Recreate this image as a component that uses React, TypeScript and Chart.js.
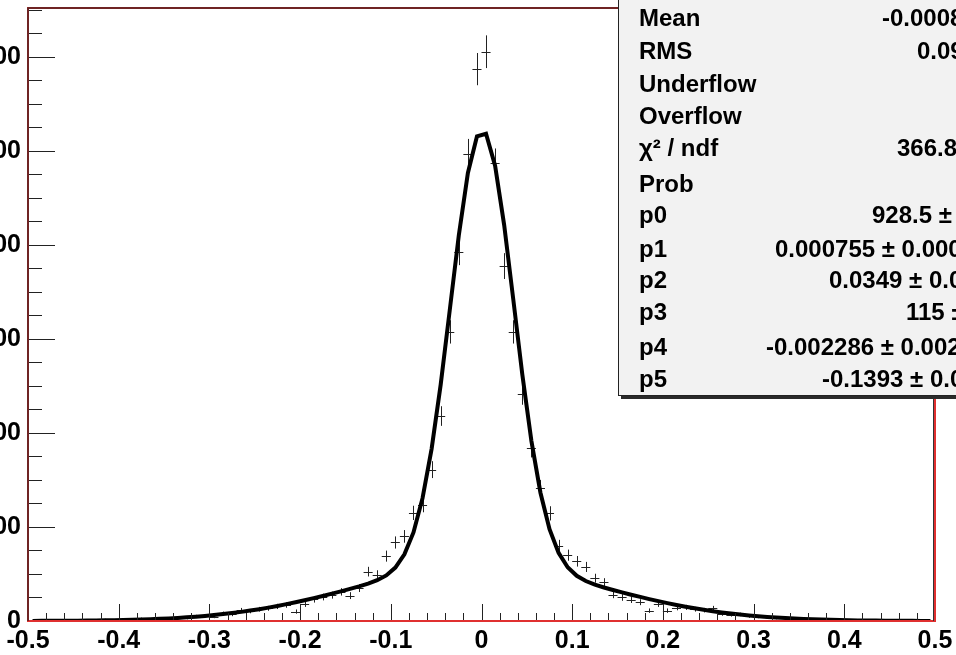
import { useEffect, useRef } from "react";
import { Chart, registerables } from "chart.js";

Chart.register(...registerables);

// ---- data ----
const binCenters = [
  -0.495, -0.485, -0.475, -0.465, -0.455, -0.445, -0.435, -0.425, -0.415, -0.405,
  -0.395, -0.385, -0.375, -0.365, -0.355, -0.345, -0.335, -0.325, -0.315, -0.305,
  -0.295, -0.285, -0.275, -0.265, -0.255, -0.245, -0.235, -0.225, -0.215, -0.205,
  -0.195, -0.185, -0.175, -0.165, -0.155, -0.145, -0.135, -0.125, -0.115, -0.105,
  -0.095, -0.085, -0.075, -0.065, -0.055, -0.045, -0.035, -0.025, -0.015, -0.005,
  0.005, 0.015, 0.025, 0.035, 0.045, 0.055, 0.065, 0.075, 0.085, 0.095,
  0.105, 0.115, 0.125, 0.135, 0.145, 0.155, 0.165, 0.175, 0.185, 0.195,
  0.205, 0.215, 0.225, 0.235, 0.245, 0.255, 0.265, 0.275, 0.285, 0.295,
  0.305, 0.315, 0.325, 0.335, 0.345, 0.355, 0.365, 0.375, 0.385, 0.395,
  0.405, 0.415, 0.425, 0.435, 0.445, 0.455, 0.465, 0.475, 0.485, 0.495,
];

const counts = [
  0, 1, 0, 1, 2, 0, 2, 1, 3, 2,
  4, 2, 5, 3, 6, 5, 7, 6, 10, 11,
  9, 16, 14, 23, 21, 25, 27, 31, 34, 20,
  36, 46, 51, 55, 62, 54, 70, 105, 98, 138,
  167, 180, 230, 247, 322, 436, 615, 785, 994, 1174,
  1211, 974, 755, 615, 482, 367, 283, 229, 160, 140,
  127, 115, 91, 82, 56, 50, 45, 40, 22, 36,
  22, 28, 29, 25, 23, 27, 15, 13, 14, 10,
  9, 8, 6, 7, 4, 5, 3, 4, 2, 3,
  1, 2, 1, 0, 1, 2, 0, 1, 0, 1,
];

const fitValues = [
  0.22, 0.28, 0.36, 0.46, 0.59, 0.74, 0.92, 1.15, 1.43, 1.76,
  2.16, 2.64, 3.21, 3.88, 4.66, 5.58, 6.64, 7.86, 9.25, 10.85,
  12.65, 14.67, 16.92, 19.42, 22.19, 25.2, 28.49, 32.04, 35.84, 39.89,
  44.17, 48.66, 53.32, 58.13, 63.1, 68.2, 73.5, 79.4, 86.7, 97.0,
  113.7, 141.8, 188.4, 261.3, 366.2, 502.8, 661.3, 820.6, 953.0, 1030.9,
  1036.4, 968.4, 842.2, 684.7, 524.3, 383.2, 272.9, 195.2, 144.9, 114.3,
  96.2, 85.1, 77.4, 71.3, 65.9, 60.85, 55.9, 51.2, 46.6, 42.2,
  38.0, 34.1, 30.4, 26.95, 23.8, 20.9, 18.25, 15.86, 13.71, 11.8,
  10.09, 8.59, 7.28, 6.13, 5.14, 4.29, 3.56, 2.94, 2.41, 1.97,
  1.6, 1.29, 1.04, 0.83, 0.66, 0.53, 0.41, 0.32, 0.25, 0.2,
];

const statLabels = ["Mean", "RMS", "Underflow", "Overflow", "χ² / ndf", "Prob", "p0", "p1", "p2", "p3", "p4", "p5"];
const statValues = [
  "-0.0008344", "0.09528", "0", "0", "366.8 / 94", "1.2e-33",
  "928.5 ± 11.6", "0.000755 ± 0.000326", "0.0349 ± 0.0004", "115 ± 2.1",
  "-0.002286 ± 0.002571", "-0.1393 ± 0.0021",
];

// ---- layout / style ----
const X_MIN = -0.5, X_MAX = 0.5, Y_MIN = 0, Y_MAX = 1304;
const BIN_HALF = 0.005;
const FONT = '"Liberation Sans", Arial, Helvetica, sans-serif';
const statRowBaselines = [26, 59, 92, 124, 156, 192, 223, 257, 288, 320, 355, 387];
const statValueStarts = [882, 917, 1000, 1000, 897, 1000, 872, 775, 829, 906, 766, 822];

function fmtX(v: number) {
  if (Math.abs(v) < 1e-9) return "0";
  return Number(v).toFixed(1);
}

const rootPlugin = {
  id: "rootStyle",
  beforeDatasetsDraw(chart: any) {
    const ctx = chart.ctx;
    const xs = chart.scales.x;
    const ys = chart.scales.y;
    const a = chart.chartArea;
    ctx.save();
    ctx.beginPath();
    ctx.rect(a.left, a.top, a.right - a.left, a.bottom - a.top);
    ctx.clip();
    ctx.strokeStyle = "#222";
    ctx.lineWidth = 1;
    ctx.beginPath();
    const pts = chart.data.datasets[0].data;
    for (let i = 0; i < pts.length; i++) {
      const c = pts[i].y;
      if (c <= 0) continue;
      const e = Math.sqrt(c);
      const px = Math.round(xs.getPixelForValue(pts[i].x)) + 0.5;
      const py = Math.round(ys.getPixelForValue(c)) + 0.5;
      const t = ys.getPixelForValue(c + e);
      const b = ys.getPixelForValue(Math.max(c - e, 0));
      const l = xs.getPixelForValue(pts[i].x - BIN_HALF);
      const r = xs.getPixelForValue(pts[i].x + BIN_HALF);
      ctx.moveTo(px, t);
      ctx.lineTo(px, b);
      ctx.moveTo(l, py);
      ctx.lineTo(r, py);
    }
    ctx.stroke();
    ctx.restore();
  },
  afterDraw(chart: any) {
    const ctx = chart.ctx;
    const xs = chart.scales.x;
    const ys = chart.scales.y;
    const a = chart.chartArea;
    ctx.save();
    // ticks
    ctx.strokeStyle = "#222";
    ctx.lineWidth = 1;
    ctx.beginPath();
    for (let k = 0; k <= 50; k++) {
      const v = X_MIN + k * 0.02;
      const major = k % 5 === 0;
      const px = Math.round(xs.getPixelForValue(v)) + 0.5;
      ctx.moveTo(px, a.bottom);
      ctx.lineTo(px, a.bottom - (major ? 17 : 8));
    }
    for (let k = 0; k <= 26; k++) {
      const v = k * 50;
      const major = k % 4 === 0;
      const py = Math.round(ys.getPixelForValue(v)) + 0.5;
      ctx.moveTo(a.left, py);
      ctx.lineTo(a.left + (major ? 27 : 14), py);
    }
    ctx.stroke();
    // frame
    ctx.strokeStyle = "#e03030";
    ctx.lineWidth = 2;
    ctx.strokeRect(a.left, a.top, a.right - a.left, a.bottom - a.top);
    ctx.strokeStyle = "#4a2020";
    ctx.lineWidth = 1.5;
    ctx.beginPath();
    ctx.moveTo(a.left, a.bottom);
    ctx.lineTo(a.left, a.top);
    ctx.lineTo(a.right, a.top);
    ctx.stroke();
    ctx.strokeStyle = "#333";
    ctx.lineWidth = 1;
    ctx.beginPath();
    ctx.moveTo(a.right - 1.5, a.top);
    ctx.lineTo(a.right - 1.5, a.bottom);
    ctx.stroke();

    // stats box
    const bx = 618, by = -5, bw = 420, bh = 401;
    ctx.fillStyle = "#2a2a2a";
    ctx.fillRect(bx + 3, by + 3, bw, bh);
    ctx.fillStyle = "#f2f2f2";
    ctx.fillRect(bx, by, bw, bh);
    ctx.strokeStyle = "#222";
    ctx.lineWidth = 1;
    ctx.strokeRect(bx + 0.5, by + 0.5, bw, bh - 1);
    ctx.fillStyle = "#000";
    ctx.font = `bold 24px ${FONT}`;
    ctx.textBaseline = "alphabetic";
    ctx.textAlign = "left";
    for (let i = 0; i < statLabels.length; i++) {
      ctx.fillText(statLabels[i], 639, statRowBaselines[i]);
      ctx.fillText(statValues[i], statValueStarts[i], statRowBaselines[i]);
    }
    ctx.restore();
  },
};

export default function App() {
  const ref = useRef<HTMLCanvasElement | null>(null);
  useEffect(() => {
    if (!ref.current) return;
    const chart = new Chart(ref.current, {
      type: "scatter",
      data: {
        datasets: [
          {
            label: "data",
            data: binCenters.map((x, i) => ({ x, y: counts[i] })),
            pointRadius: 0,
            showLine: false,
          },
          {
            label: "fit",
            data: binCenters.map((x, i) => ({ x, y: fitValues[i] })),
            showLine: true,
            borderColor: "#000",
            borderWidth: 4,
            pointRadius: 0,
            tension: 0,
            fill: false,
          },
        ],
      },
      options: {
        responsive: false,
        animation: false,
        devicePixelRatio: 1,
        layout: { padding: { top: 8, right: 21, left: 0, bottom: 0 } },
        plugins: { legend: { display: false }, tooltip: { enabled: false } },
        scales: {
          x: {
            type: "linear",
            min: X_MIN,
            max: X_MAX,
            grid: { display: false, drawTicks: false },
            border: { display: false },
            ticks: {
              stepSize: 0.1,
              autoSkip: false,
              maxRotation: 0,
              padding: 8,
              color: "#000",
              font: { family: FONT, size: 25, weight: "bold", lineHeight: 1 },
              callback: (v: any) => fmtX(Number(v)),
            },
            afterFit: (s: any) => {
              s.height = 34;
              s.paddingLeft = 0;
              s.paddingRight = 0;
            },
          },
          y: {
            type: "linear",
            min: Y_MIN,
            max: Y_MAX,
            grid: { display: false, drawTicks: false },
            border: { display: false },
            ticks: {
              stepSize: 200,
              includeBounds: false,
              padding: 7,
              color: "#000",
              font: { family: FONT, size: 25, weight: "bold", lineHeight: 1 },
              callback: (v: any) => String(v),
            },
            afterFit: (s: any) => {
              s.width = 28;
              s.paddingTop = 0;
              s.paddingBottom = 0;
            },
          },
        },
      },
      plugins: [rootPlugin],
    });
    return () => chart.destroy();
  }, []);
  return (
    <div style={{ position: "fixed", left: 0, top: 0, width: 956, height: 655, background: "#fff" }}>
      <canvas ref={ref} width={956} height={655} style={{ display: "block" }} />
    </div>
  );
}
